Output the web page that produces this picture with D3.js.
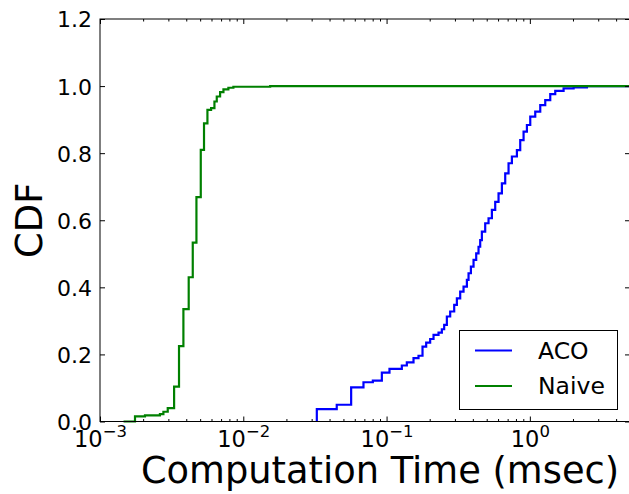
<!DOCTYPE html>
<html>
<head>
<meta charset="utf-8">
<script src="https://cdn.jsdelivr.net/npm/d3@7"></script>
<style>
  html, body { margin: 0; padding: 0; background: #fff; }
  svg { display: block; font-family: "DejaVu Sans", sans-serif; }
</style>
</head>
<body>
<svg id="chart" width="629" height="494"></svg>
<script>
// Empirical CDFs of computation time (msec), drawn as step curves
const naiveTime = [0.00146, 0.001755, 0.00206, 0.00262, 0.00277, 0.00297, 0.00329, 0.00356, 0.00382,
  0.00416, 0.00444, 0.00471, 0.00505, 0.00532, 0.00562, 0.00596, 0.00629, 0.00653, 0.00689,
  0.00727, 0.00787, 0.00853, 0.0154, 5];
const naiveCdf = [0, 0.015, 0.018, 0.022, 0.029, 0.04, 0.104, 0.225, 0.335,
  0.43, 0.533, 0.669, 0.81, 0.889, 0.929, 0.934, 0.954, 0.969, 0.982,
  0.99, 0.995, 0.998, 1.0, 1.0];

const acoTime = [0.0326, 0.0326, 0.0449, 0.0566, 0.0690, 0.0802, 0.0927, 0.1048, 0.1278, 0.1385, 0.1542,
  0.1671, 0.1782, 0.1890, 0.2015, 0.2127, 0.2305, 0.2431, 0.2524, 0.2635, 0.2780,
  0.2965, 0.3095, 0.3265, 0.3445, 0.3635, 0.3734, 0.3877, 0.4046, 0.4223, 0.4384,
  0.4503, 0.4625, 0.4880, 0.5149, 0.5433, 0.5732, 0.6047, 0.6380, 0.6731, 0.7102,
  0.7492, 0.8121, 0.8567, 0.9040, 0.9539, 1.0065, 1.0907, 1.1819, 1.2808, 1.3880,
  1.5040, 1.7198, 2.0204, 2.5029, 5];
const acoCdf = [0, 0.037, 0.05, 0.102, 0.117, 0.122, 0.146, 0.157, 0.167, 0.176, 0.189,
  0.196, 0.223, 0.235, 0.246, 0.258, 0.265, 0.275, 0.288, 0.313, 0.328,
  0.348, 0.367, 0.387, 0.402, 0.422, 0.442, 0.462, 0.482, 0.501, 0.521,
  0.541, 0.566, 0.591, 0.606, 0.631, 0.655, 0.680, 0.710, 0.740, 0.770,
  0.790, 0.809, 0.839, 0.864, 0.884, 0.909, 0.924, 0.943, 0.958, 0.976,
  0.986, 0.993, 0.996, 1.0, 1.0];

const seriesNames = ["ACO", "Naive"];
const seriesColors = ["#0000ff", "#008000"];
const xMajorTicks = [1e-3, 1e-2, 1e-1, 1e0];
const xTickExponents = ["\u22123", "\u22122", "\u22121", "0"];
const yTicks = [0, 0.2, 0.4, 0.6, 0.8, 1.0, 1.2];

const svg = d3.select("#chart");
const plotLeft = 100, plotRight = 630, plotTop = 19, plotBottom = 421.5;

const x = d3.scaleLog().domain([1e-3, 5]).range([plotLeft, plotRight]);
const y = d3.scaleLinear().domain([0, 1.2]).range([plotBottom, plotTop]);

// minor ticks: 2..9 within each decade
const xMinor = [];
for (let e = -3; e <= 0; e++) {
  for (let m = 2; m <= 9; m++) {
    const v = m * Math.pow(10, e);
    if (v <= 5) xMinor.push(v);
  }
}

const line = d3.line()
  .x(d => x(d[0]))
  .y(d => y(d[1]))
  .curve(d3.curveStepAfter);

svg.append("clipPath").attr("id", "plotclip")
  .append("rect").attr("x", plotLeft).attr("y", plotTop - 2)
  .attr("width", plotRight - plotLeft).attr("height", plotBottom - plotTop + 4);

const plot = svg.append("g").attr("clip-path", "url(#plotclip)");
const series = [
  d3.zip(acoTime, acoCdf),
  d3.zip(naiveTime, naiveCdf)
];
series.forEach((pts, i) => {
  plot.append("path")
    .datum(pts)
    .attr("d", line)
    .attr("fill", "none")
    .attr("stroke", seriesColors[i])
    .attr("stroke-width", 2.2)
    .attr("stroke-linejoin", "miter");
});

// ticks pointing into the plot on all four sides
function styleAxis(g) {
  g.select(".domain").remove();
  g.selectAll(".tick line").attr("stroke", "#000").attr("stroke-width", 1);
}

svg.append("g").attr("transform", `translate(0,${plotBottom})`)
  .call(d3.axisBottom(x).tickValues(xMinor).tickSize(-2.5).tickFormat(""))
  .call(styleAxis);
svg.append("g").attr("transform", `translate(0,${plotTop})`)
  .call(d3.axisTop(x).tickValues(xMinor).tickSize(-2.5).tickFormat(""))
  .call(styleAxis);
svg.append("g").attr("transform", `translate(0,${plotTop})`)
  .call(d3.axisTop(x).tickValues(xMajorTicks).tickSize(-5).tickFormat(""))
  .call(styleAxis);

const xAxis = svg.append("g").attr("transform", `translate(0,${plotBottom})`)
  .call(d3.axisBottom(x).tickValues(xMajorTicks).tickSize(-5).tickPadding(0).tickFormat(""))
  .call(styleAxis);
xAxis.selectAll(".tick").each(function(d, i) {
  const t = d3.select(this).append("text")
    .attr("y", 25.3)
    .attr("fill", "#000")
    .attr("text-anchor", "middle")
    .style("font-size", "22.5px")
    .style("font-family", "DejaVu Sans, sans-serif");
  t.append("tspan").text("10");
  t.append("tspan").attr("dy", -10).style("font-size", "16.5px").text(xTickExponents[i]);
});

const yAxis = svg.append("g").attr("transform", `translate(${plotLeft},0)`)
  .call(d3.axisLeft(y).tickValues(yTicks).tickSize(-5).tickPadding(8).tickFormat(d3.format(".1f")))
  .call(styleAxis);
yAxis.selectAll(".tick text")
  .attr("fill", "#000")
  .attr("dy", "0.36em")
  .style("font-size", "22px")
  .style("font-family", "DejaVu Sans, sans-serif");
svg.append("g").attr("transform", `translate(${plotRight},0)`)
  .call(d3.axisRight(y).tickValues(yTicks).tickSize(-5).tickFormat(""))
  .call(styleAxis);

// frame
svg.append("rect")
  .attr("x", plotLeft).attr("y", plotTop)
  .attr("width", plotRight - plotLeft).attr("height", plotBottom - plotTop)
  .attr("fill", "none").attr("stroke", "#000").attr("stroke-width", 1);

// axis titles
svg.append("text")
  .attr("x", 380).attr("y", 483)
  .attr("text-anchor", "middle")
  .style("font-size", "36.8px")
  .attr("fill", "#000")
  .text("Computation Time (msec)");
svg.append("text")
  .attr("transform", `translate(42,${(plotTop + plotBottom) / 2}) rotate(-90)`)
  .attr("text-anchor", "middle")
  .style("font-size", "37px")
  .attr("fill", "#000")
  .text("CDF");

// legend
const legend = svg.append("g");
legend.append("rect")
  .attr("x", 459.5).attr("y", 330.5)
  .attr("width", 158).attr("height", 79)
  .attr("fill", "#fff").attr("stroke", "#000").attr("stroke-width", 1);
seriesNames.forEach((name, i) => {
  const ly = 350.5 + i * 35.5;
  legend.append("line")
    .attr("x1", 475).attr("x2", 512)
    .attr("y1", ly).attr("y2", ly)
    .attr("stroke", seriesColors[i]).attr("stroke-width", 2.2);
  legend.append("text")
    .attr("x", 538).attr("y", ly + 8)
    .style("font-size", "23.5px")
    .attr("fill", "#000")
    .text(name);
});
</script>
</body>
</html>
